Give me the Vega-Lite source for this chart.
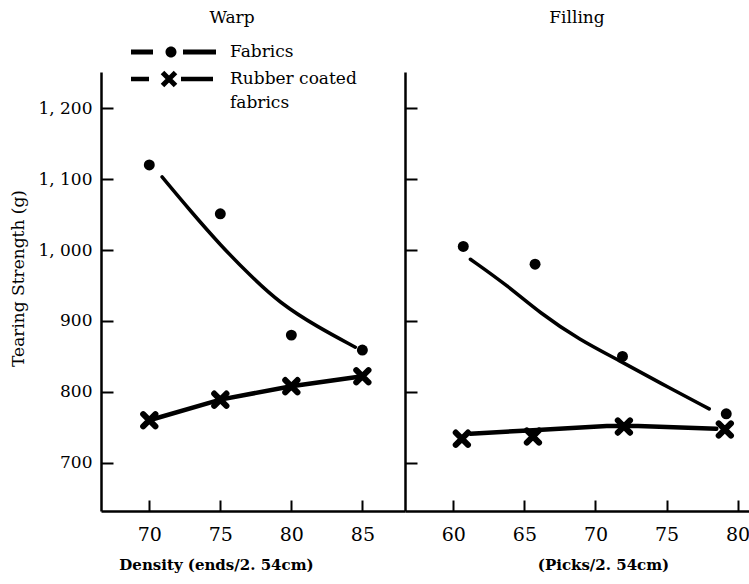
{
  "$schema": "https://vega.github.io/schema/vega-lite/v6.json",
  "background": "white",
  "autosize": "none",
  "padding": {"left": 101, "top": 72, "right": 648, "bottom": 512},
  "bounds": "flush",
  "spacing": 0,
  "config": {
    "font": "DejaVu Serif",
    "view": {"stroke": null},
    "style": {"guide-label": {"lineHeight": 24}},
    "axis": {"grid": false, "domainColor": "black", "domainWidth": 2.5, "tickColor": "black", "tickWidth": 2, "labelColor": "black", "labelFontSize": 17, "labelFont": "DejaVu Serif", "titleColor": "black", "titleFont": "DejaVu Serif", "titleFontWeight": "normal", "titleFontSize": 17},
    "axisX": {"tickSize": -11, "labelPadding": 25, "labelFlush": false, "labelFontSize": 19},
    "axisY": {"tickSize": -12, "labelPadding": 21},
    "title": {"font": "DejaVu Serif", "fontSize": 17, "fontWeight": "normal", "color": "black", "frame": "group", "offset": 45}
  },
  "datasets": {
    "pts": [
      {"panel": "Warp", "series": "Fabrics", "x": 70, "y": 1120},
      {"panel": "Warp", "series": "Fabrics", "x": 75, "y": 1051},
      {"panel": "Warp", "series": "Fabrics", "x": 80, "y": 880},
      {"panel": "Warp", "series": "Fabrics", "x": 85, "y": 859},
      {"panel": "Warp", "series": "Rubber coated fabrics", "x": 70, "y": 760},
      {"panel": "Warp", "series": "Rubber coated fabrics", "x": 75, "y": 789},
      {"panel": "Warp", "series": "Rubber coated fabrics", "x": 80, "y": 808},
      {"panel": "Warp", "series": "Rubber coated fabrics", "x": 85, "y": 822},
      {"panel": "Filling", "series": "Fabrics", "x": 60.7, "y": 1005},
      {"panel": "Filling", "series": "Fabrics", "x": 65.75, "y": 980},
      {"panel": "Filling", "series": "Fabrics", "x": 71.9, "y": 850},
      {"panel": "Filling", "series": "Fabrics", "x": 79.2, "y": 769},
      {"panel": "Filling", "series": "Rubber coated fabrics", "x": 60.6, "y": 734},
      {"panel": "Filling", "series": "Rubber coated fabrics", "x": 65.6, "y": 737},
      {"panel": "Filling", "series": "Rubber coated fabrics", "x": 72.0, "y": 751},
      {"panel": "Filling", "series": "Rubber coated fabrics", "x": 79.1, "y": 747}
    ],
    "fit": [
      {"panel": "Warp", "series": "Fabrics", "x": 70.9, "y": 1103},
      {"panel": "Warp", "series": "Fabrics", "x": 72.9, "y": 1055},
      {"panel": "Warp", "series": "Fabrics", "x": 75.0, "y": 1007},
      {"panel": "Warp", "series": "Fabrics", "x": 77.1, "y": 964},
      {"panel": "Warp", "series": "Fabrics", "x": 79.2, "y": 925},
      {"panel": "Warp", "series": "Fabrics", "x": 81.8, "y": 892},
      {"panel": "Warp", "series": "Fabrics", "x": 84.5, "y": 863},
      {"panel": "Warp", "series": "Rubber coated fabrics", "x": 70, "y": 760},
      {"panel": "Warp", "series": "Rubber coated fabrics", "x": 75, "y": 789},
      {"panel": "Warp", "series": "Rubber coated fabrics", "x": 80, "y": 808},
      {"panel": "Warp", "series": "Rubber coated fabrics", "x": 85, "y": 822},
      {"panel": "Filling", "series": "Fabrics", "x": 61.2, "y": 987},
      {"panel": "Filling", "series": "Fabrics", "x": 63.8, "y": 950},
      {"panel": "Filling", "series": "Fabrics", "x": 66.1, "y": 911},
      {"panel": "Filling", "series": "Fabrics", "x": 68.9, "y": 873},
      {"panel": "Filling", "series": "Fabrics", "x": 71.7, "y": 844},
      {"panel": "Filling", "series": "Fabrics", "x": 74.5, "y": 813},
      {"panel": "Filling", "series": "Fabrics", "x": 78.0, "y": 776},
      {"panel": "Filling", "series": "Rubber coated fabrics", "x": 61.2, "y": 741},
      {"panel": "Filling", "series": "Rubber coated fabrics", "x": 65.6, "y": 746},
      {"panel": "Filling", "series": "Rubber coated fabrics", "x": 70.8, "y": 752},
      {"panel": "Filling", "series": "Rubber coated fabrics", "x": 73.0, "y": 752},
      {"panel": "Filling", "series": "Rubber coated fabrics", "x": 78.5, "y": 748}
    ]
  },
  "hconcat": [
    {
      "width": 304,
      "height": 439,
      "title": {"text": "Warp", "dx": -21},
      "encoding": {
        "x": {"field": "x", "type": "quantitative", "scale": {"domain": [66.6, 88], "nice": false, "zero": false},
          "axis": {"values": [70, 75, 80, 85], "title": "Density (ends/2. 54cm)", "titleX": 115, "titleY": 46, "titleFontWeight": "bold", "titleFontSize": 15}},
        "y": {"field": "y", "type": "quantitative", "scale": {"domain": [632, 1251], "nice": false, "zero": false},
          "axis": {"values": [700, 800, 900, 1000, 1100, 1200], "labelExpr": "datum.value >= 1000 ? '1, ' + format(datum.value - 1000, '03d') : datum.label", "title": "Tearing Strength (g)", "titleX": -74, "titleY": 206}}
      },
      "layer": [
        {"data": {"name": "fit"}, "transform": [{"filter": "datum.panel == 'Warp' && datum.series == 'Fabrics'"}],
         "mark": {"type": "line", "color": "black", "strokeWidth": 3.5, "interpolate": "basis", "strokeCap": "round"}},
        {"data": {"name": "fit"}, "transform": [{"filter": "datum.panel == 'Warp' && datum.series != 'Fabrics'"}],
         "mark": {"type": "line", "color": "black", "strokeWidth": 4.5, "strokeCap": "round"}},
        {"data": {"name": "pts"}, "transform": [{"filter": "datum.panel == 'Warp' && datum.series == 'Fabrics'"}],
         "mark": {"type": "point", "shape": "circle", "filled": true, "color": "black", "size": 120, "opacity": 1}},
        {"data": {"name": "pts"}, "transform": [{"filter": "datum.panel == 'Warp' && datum.series != 'Fabrics'"}],
         "mark": {"type": "point", "shape": "M-1,-1L1,1M-1,1L1,-1", "filled": false, "color": "black", "strokeWidth": 6, "strokeCap": "round", "size": 150, "opacity": 1}},
        {"data": {"name": "pts"}, "transform": [{"filter": "datum.panel == 'Warp'"}],
         "mark": {"type": "point", "filled": true, "color": "black", "opacity": 0},
         "encoding": {
           "shape": {"field": "series", "type": "nominal",
             "scale": {"domain": ["Fabrics", "Rubber coated fabrics"],
               "range": [
                 "M-4.25,-0.24H-2.05V0.24H-4.25ZM0.95,-0.24H4.25V0.24H0.95ZM-0.8,0A0.55,0.55,0,1,0,0.3,0A0.55,0.55,0,1,0,-0.8,0Z",
                 "M-4.25,-0.22H-2.45V0.22H-4.25ZM0.75,-0.22H3.95V0.22H0.75ZM-0.923,-0.827L0.377,0.473L0.023,0.827L-1.277,-0.473ZM-1.277,0.473L0.023,-0.827L0.377,-0.473L-0.923,0.827Z"
               ]},
             "legend": {"orient": "none", "legendX": 62.5, "legendY": -30, "title": null, "symbolSize": 400, "symbolStrokeWidth": 0, "symbolFillColor": "black", "symbolStrokeColor": "black", "symbolOpacity": 1, "labelFontSize": 17, "labelFont": "DejaVu Serif", "labelColor": "black", "labelOffset": 46.5, "rowPadding": 9, "padding": 0,
               "labelExpr": "datum.label == 'Rubber coated fabrics' ? ['Rubber coated', 'fabrics'] : datum.label"}}
         }}
      ]
    },
    {
      "width": 344,
      "height": 439,
      "title": {"text": "Filling"},
      "encoding": {
        "x": {"field": "x", "type": "quantitative", "scale": {"domain": [56.6, 80.8], "nice": false, "zero": false},
          "axis": {"values": [60, 65, 70, 75, 80], "title": "(Picks/2. 54cm)", "titleX": 198, "titleY": 46, "titleFontWeight": "bold", "titleFontSize": 15}},
        "y": {"field": "y", "type": "quantitative", "scale": {"domain": [632, 1251], "nice": false, "zero": false},
          "axis": {"values": [700, 800, 900, 1000, 1100, 1200], "labels": false, "title": null}}
      },
      "layer": [
        {"data": {"name": "fit"}, "transform": [{"filter": "datum.panel == 'Filling' && datum.series == 'Fabrics'"}],
         "mark": {"type": "line", "color": "black", "strokeWidth": 3.5, "interpolate": "basis", "strokeCap": "round"}},
        {"data": {"name": "fit"}, "transform": [{"filter": "datum.panel == 'Filling' && datum.series != 'Fabrics'"}],
         "mark": {"type": "line", "color": "black", "strokeWidth": 4.5, "strokeCap": "round"}},
        {"data": {"name": "pts"}, "transform": [{"filter": "datum.panel == 'Filling' && datum.series == 'Fabrics'"}],
         "mark": {"type": "point", "shape": "circle", "filled": true, "color": "black", "size": 120, "opacity": 1}},
        {"data": {"name": "pts"}, "transform": [{"filter": "datum.panel == 'Filling' && datum.series != 'Fabrics'"}],
         "mark": {"type": "point", "shape": "M-1,-1L1,1M-1,1L1,-1", "filled": false, "color": "black", "strokeWidth": 6, "strokeCap": "round", "size": 150, "opacity": 1}}
      ]
    }
  ]
}
